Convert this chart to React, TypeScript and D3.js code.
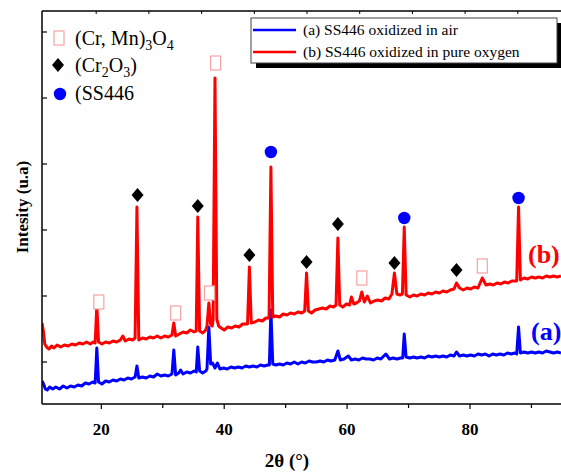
import React from 'react';
import * as d3 from 'd3';

const W = 561;
const H = 472;

// (a) SS446 oxidized in air  [2θ, intensity (a.u.)]
const seriesA: [number, number][] = [
  [10.35, 23], [10.6, 20], [10.9, 15], [11.2, 14], [11.6, 17], [12.1, 15], [12.6, 17], [13.2, 15], [13.8, 18], [14.4, 16],
  [15, 18], [15.6, 17], [16.2, 19], [16.8, 18], [17.4, 21], [18, 20], [18.6, 22], [19.0, 21], [19.27, 56], [19.55, 22],
  [20.1, 20], [20.7, 23], [21.3, 22], [21.9, 24], [22.5, 23], [23.1, 25], [23.7, 24], [24.3, 26], [24.9, 25], [25.5, 27],
  [25.8, 38], [26.1, 26], [26.7, 27], [27.3, 26], [27.9, 28], [28.5, 27], [29.1, 30], [29.7, 28], [30.3, 29], [30.9, 28],
  [31.5, 30], [31.8, 54], [32.1, 29], [32.6, 31], [32.9, 34], [33.3, 30], [33.9, 32], [34.5, 31], [35.1, 33], [35.45, 32],
  [35.7, 57], [36.0, 33], [36.5, 31], [37.0, 33], [37.2, 35], [37.5, 77], [37.8, 40], [38.1, 41], [38.5, 36], [38.9, 41],
  [39.3, 35], [39.9, 36], [40.5, 35], [41.1, 37], [41.7, 36], [42.3, 37], [42.9, 36], [43.5, 38], [44.1, 37], [44.7, 38],
  [45.3, 37], [45.9, 39], [46.5, 38], [47.1, 39], [47.35, 39], [47.6, 94], [47.9, 40], [48.4, 39], [49.0, 40], [49.6, 39],
  [50.2, 41], [50.8, 40], [51.4, 42], [52, 40], [52.6, 42], [53.2, 41], [53.8, 43], [54.4, 42], [55, 42], [55.6, 43],
  [56.2, 42], [56.8, 44], [57.4, 43], [58, 44], [58.5, 53], [58.9, 44], [59.5, 45], [60.2, 48], [60.7, 44], [61.3, 45],
  [61.9, 44], [62.5, 46], [63.1, 45], [63.7, 45], [64.3, 44], [64.9, 46], [65.5, 45], [66.3, 50], [66.9, 45], [67.5, 46],
  [68.1, 45], [68.7, 46], [69.05, 46], [69.3, 70], [69.6, 47], [70.2, 46], [70.8, 47], [71.4, 46], [72, 47], [72.6, 46],
  [73.2, 48], [73.8, 47], [74.4, 48], [75, 47], [75.6, 48], [76.2, 47], [76.8, 49], [77.4, 48], [77.8, 52], [78.3, 48],
  [78.9, 49], [79.5, 48], [80.1, 49], [80.7, 48], [81.3, 50], [81.9, 49], [82.5, 50], [83.1, 48], [83.7, 50], [84.3, 49],
  [84.9, 50], [85.5, 49], [86.1, 51], [86.7, 50], [87.3, 51], [87.6, 50], [87.9, 77], [88.2, 51], [88.8, 52], [89.4, 51],
  [90, 52], [90.6, 51], [91.2, 52], [91.8, 51], [92.4, 53], [93, 52], [93.6, 51], [94.2, 52], [94.8, 51],
];

// (b) SS446 oxidized in pure oxygen  [2θ, intensity (a.u.)]
const seriesB: [number, number][] = [
  [10.35, 81], [10.55, 74], [10.8, 60], [11.1, 57], [11.5, 55], [11.9, 58], [12.3, 56], [12.8, 59], [13.4, 57], [14, 59],
  [14.6, 58], [15.2, 60], [15.8, 59], [16.4, 61], [17, 60], [17.6, 62], [18.2, 60], [18.7, 62], [19.0, 61], [19.27, 99],
  [19.55, 62], [20.1, 60], [20.7, 62], [21.3, 61], [21.9, 63], [22.5, 62], [23.1, 64], [23.5, 68], [23.9, 63], [24.5, 65],
  [25.1, 64], [25.5, 66], [25.8, 197], [26.1, 64], [26.7, 66], [27.3, 65], [27.9, 67], [28.5, 66], [29.1, 68], [29.7, 66],
  [30.3, 68], [30.9, 67], [31.5, 69], [31.8, 81], [32.1, 68], [32.7, 70], [33.3, 72], [33.9, 71], [34.5, 74], [35.1, 72],
  [35.45, 73], [35.7, 187], [36.0, 73], [36.5, 71], [37.0, 74], [37.2, 78], [37.5, 101], [37.8, 80], [38.05, 78], [38.2, 85],
  [38.5, 326], [38.8, 85], [39.1, 78], [39.5, 76], [40.0, 74], [40.6, 77], [41.2, 76], [41.8, 78], [42.4, 77], [43, 80],
  [43.8, 80], [44.1, 137], [44.4, 81], [45, 82], [45.6, 84], [46.2, 83], [46.8, 86], [47.3, 86], [47.6, 237], [47.9, 87],
  [48.4, 88], [49, 87], [49.6, 90], [50.2, 89], [50.8, 91], [51.4, 90], [52, 92], [52.6, 91], [53.1, 93], [53.4, 131],
  [53.7, 93], [54.2, 91], [54.8, 94], [55.4, 95], [56, 96], [56.6, 95], [57.2, 98], [57.8, 97], [58.2, 99], [58.5, 166],
  [58.8, 99], [59.3, 97], [59.9, 100], [60.4, 99], [60.7, 107], [61.1, 100], [61.5, 101], [62, 103], [62.4, 112], [62.8, 102],
  [63.3, 108], [63.8, 101], [64.4, 103], [65, 104], [65.6, 103], [66.2, 106], [66.8, 105], [67.3, 110], [67.7, 131], [68.1, 110],
  [68.6, 109], [69.0, 110], [69.3, 177], [69.6, 109], [70.2, 107], [70.8, 109], [71.4, 108], [72, 110], [72.6, 109], [73.2, 111],
  [73.8, 110], [74.4, 112], [75, 111], [75.6, 113], [76.2, 112], [76.8, 114], [77.4, 115], [77.8, 121], [78.3, 116], [78.9, 114],
  [79.5, 116], [80.1, 115], [80.7, 117], [81.3, 116], [82.0, 126], [82.6, 119], [83.2, 120], [83.8, 119], [84.4, 121], [85, 120],
  [85.6, 122], [86.2, 121], [86.8, 123], [87.6, 123], [87.9, 197], [88.2, 124], [88.8, 126], [89.4, 125], [90, 127], [90.6, 126],
  [91.2, 127], [91.8, 126], [92.4, 128], [93, 127], [93.6, 128], [94.2, 127], [94.8, 128],
];

// phase markers [2θ, intensity]
const spinelMarks: [number, number][] = [[19.6, 102], [32.1, 91], [37.6, 111], [38.6, 341], [62.4, 126], [82.0, 138]];
const chromiaMarks: [number, number][] = [[25.9, 209], [35.7, 198], [44.1, 149], [53.4, 142], [58.5, 180], [67.7, 141], [77.8, 134]];
const steelMarks: [number, number][] = [[47.6, 252], [69.3, 186], [87.9, 206]];

const xMajorTicks = [20, 40, 60, 80];
const xMinorTicks = [30, 50, 70, 90];
const yTicks = [42, 108, 174, 240, 306, 372];
const topTicks = [1, 2, 3, 4, 5, 6, 7, 8, 9, 10];
const seriesNames = ['(a) SS446 oxidized in air', '(b) SS446 oxidized in pure oxygen'];
const seriesColors = ['#0000ff', '#ff0000'];
const curveLabels = ['(a)', '(b)'];

const FONT = "'Liberation Serif', 'Times New Roman', Times, serif";
const SQ = '#f4a3a3';

export default function App() {
  const x = d3.scaleLinear().domain([20, 80]).range([101.3, 470]);
  const y = d3.scaleLinear().domain([0, 393]).range([404, 11]);
  const topX = d3.scaleLinear().domain([0, 1]).range([43.5, 96.2]);
  const left = x(10.35);
  const right = W;
  const top = y(393);
  const bottom = y(0);

  const line = d3.line<[number, number]>().x((d) => x(d[0])).y((d) => y(d[1]));

  const square = (cx: number, cy: number, key: string) => (
    <rect key={key} x={cx - 5} y={cy - 7} width={10} height={14} fill="white" stroke={SQ} strokeWidth={1.2} />
  );
  const diamond = (cx: number, cy: number, key: string) => (
    <path key={key} d={`M${cx},${cy - 7}L${cx + 6},${cy}L${cx},${cy + 7}L${cx - 6},${cy}Z`} fill="black" />
  );
  const circle = (cx: number, cy: number, key: string) => (
    <circle key={key} cx={cx} cy={cy} r={6.2} fill="#0000ff" />
  );
  const ts = { fontFamily: FONT };

  return (
    <svg width={W} height={H} style={{ position: 'absolute', left: 0, top: 0, background: 'white', fontFamily: FONT }}>
      <defs>
        <clipPath id="plot">
          <rect x={left} y={top} width={right - left} height={bottom - top} />
        </clipPath>
      </defs>
      <rect x={0} y={0} width={W} height={H} fill="white" />

      <g clipPath="url(#plot)">
        {[seriesA, seriesB].map((s, i) => (
          <path key={i} d={line(s) || ''} fill="none" stroke={seriesColors[i]} strokeWidth={3} strokeLinejoin="round" />
        ))}
      </g>

      {/* axes */}
      <line x1={left} x2={right} y1={bottom} y2={bottom} stroke="black" strokeWidth={1.5} />
      <line x1={left} x2={left} y1={top} y2={bottom} stroke="black" strokeWidth={1.5} />
      <line x1={left} x2={right} y1={top} y2={top} stroke="black" strokeWidth={1.5} />
      {xMajorTicks.map((t) => (
        <g key={'M' + t}>
          <line x1={x(t)} x2={x(t)} y1={bottom} y2={bottom + 5} stroke="black" strokeWidth={1.2} />
          <text style={ts} x={x(t)} y={435} textAnchor="middle" fontWeight="bold" fontSize={17}>{t}</text>
        </g>
      ))}
      {xMinorTicks.map((t) => (
        <line key={'m' + t} x1={x(t)} x2={x(t)} y1={bottom} y2={bottom + 4} stroke="black" strokeWidth={1.2} />
      ))}
      {yTicks.map((t) => (
        <line key={'y' + t} x1={left} x2={left + 5} y1={y(t)} y2={y(t)} stroke="black" strokeWidth={1.2} />
      ))}
      {topTicks.map((t) => (
        <line key={'t' + t} x1={topX(t)} x2={topX(t)} y1={top} y2={top + 3} stroke="black" strokeWidth={1} />
      ))}

      <text style={ts} x={287} y={467} textAnchor="middle" fontWeight="bold" fontSize={19}>2θ (°)</text>
      <text style={ts} transform="translate(28,207) rotate(-90)" textAnchor="middle" fontWeight="bold" fontSize={17}>Intesity (u.a)</text>

      {/* phase markers */}
      {spinelMarks.map((d, i) => square(x(d[0]), y(d[1]), 's' + i))}
      {chromiaMarks.map((d, i) => diamond(x(d[0]), y(d[1]), 'd' + i))}
      {steelMarks.map((d, i) => circle(x(d[0]), y(d[1]), 'c' + i))}

      {/* curve labels */}
      <text style={ts} x={528} y={263} fontWeight="bold" fontSize={26} fill={seriesColors[1]}>{curveLabels[1]}</text>
      <text style={ts} x={531} y={340} fontWeight="bold" fontSize={26} fill={seriesColors[0]}>{curveLabels[0]}</text>

      {/* phase legend */}
      {square(59, 38, 'ls')}
      <text style={ts} x={75} y={45} fontSize={20}>
        (Cr, Mn)<tspan fontSize={14} dy={5}>3</tspan><tspan dy={-5}>O</tspan><tspan fontSize={14} dy={5}>4</tspan>
      </text>
      {diamond(58, 65, 'ld')}
      <text style={ts} x={75} y={72} fontSize={20}>
        (Cr<tspan fontSize={14} dy={5}>2</tspan><tspan dy={-5}>O</tspan><tspan fontSize={14} dy={5}>3</tspan><tspan dy={-5}>)</tspan>
      </text>
      {circle(60, 94, 'lc')}
      <text style={ts} x={75} y={100} fontSize={20}>(SS446</text>

      {/* series legend */}
      <rect x={256} y={23} width={306} height={45} fill="black" />
      <rect x={251} y={18} width={306} height={45} fill="white" stroke="#444" strokeWidth={1} />
      {seriesNames.map((n, i) => (
        <g key={n}>
          <line x1={253} x2={296} y1={30 + i * 22} y2={30 + i * 22} stroke={seriesColors[i]} strokeWidth={2.5} />
          <text style={ts} x={303} y={35 + i * 22} fontSize={15.5}>{n}</text>
        </g>
      ))}
    </svg>
  );
}
